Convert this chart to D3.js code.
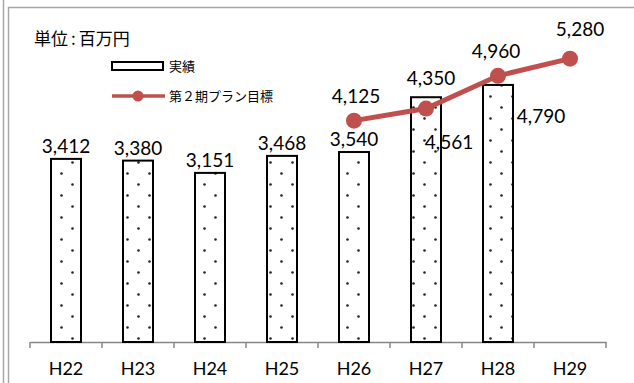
<!DOCTYPE html>
<html>
<head>
<meta charset="utf-8">
<script src="https://cdn.jsdelivr.net/npm/d3@7"></script>
<style>
  body { margin: 0; background: #fff; }
  svg { display: block; }
</style>
</head>
<body>
<div id="chart"></div>
<script>
const categories = ['H22', 'H23', 'H24', 'H25', 'H26', 'H27', 'H28', 'H29'];
const actual = [3412, 3380, 3151, 3468, 3540, 4561, 4790, null];
const planCats = ['H26', 'H27', 'H28', 'H29'];
const plan = [4125, 4350, 4960, 5280];
const legendLabels = ['実績', '第２期プラン目標'];
const unitParts = ['単位', ':', '百万円'];

const W = 634, H = 383;
const red = '#c0504d';
const numFont = 'Lato, "Open Sans", sans-serif';
const jpFont = '"Noto Sans CJK JP", "Noto Sans", sans-serif';

const svg = d3.select('#chart').append('svg')
  .attr('width', W).attr('height', H);

// outer frame remnants
svg.append('line').attr('x1', 3.5).attr('x2', 3.5).attr('y1', 0).attr('y2', H)
  .attr('stroke', '#a6a6a6').attr('stroke-width', 1.5);
svg.append('path').attr('d', `M8.5,${H} V7.5 H${W}`)
  .attr('fill', 'none').attr('stroke', '#a6a6a6').attr('stroke-width', 1.5);

const defs = svg.append('defs');
const pat = defs.append('pattern').attr('id', 'dots')
  .attr('patternUnits', 'userSpaceOnUse').attr('width', 22).attr('height', 22)
  .attr('x', 1).attr('y', 3);
pat.append('rect').attr('width', 22).attr('height', 22).attr('fill', '#fff');
pat.append('circle').attr('cx', 5.5).attr('cy', 5.5).attr('r', 1.3).attr('fill', '#222');
pat.append('circle').attr('cx', 16.5).attr('cy', 16.5).attr('r', 1.3).attr('fill', '#222');

const x = d3.scaleBand().domain(categories).range([30, 606]).paddingInner(0).paddingOuter(0);
const y = d3.scaleLinear().domain([0, 6000]).range([342, 20]);
const bw = 30;

// axis
const ax = svg.append('g').attr('transform', 'translate(0,342)')
  .call(d3.axisBottom(x).tickSize(0).tickPadding(0));
ax.select('.domain').attr('stroke', '#868686').attr('stroke-width', 1.5);
ax.selectAll('.tick text').remove();
ax.selectAll('.tick line').remove();
ax.selectAll('.sep').data(d3.range(categories.length + 1)).enter().append('line')
  .attr('x1', i => 30 + i * x.bandwidth()).attr('x2', i => 30 + i * x.bandwidth())
  .attr('y1', 0).attr('y2', 6).attr('stroke', '#868686').attr('stroke-width', 1.5);
svg.selectAll('.cat').data(categories).enter().append('text')
  .attr('x', d => x(d) + x.bandwidth() / 2).attr('y', 375)
  .attr('text-anchor', 'middle')
  .style('font-family', numFont).style('font-size', '18px').style('fill', '#000')
  .text(d => d);

// bars
const barData = categories.map((c, i) => ({ c, v: actual[i] })).filter(d => d.v != null);
svg.selectAll('.bar').data(barData).enter().append('rect')
  .attr('x', d => x(d.c) + (x.bandwidth() - bw) / 2)
  .attr('y', d => y(d.v))
  .attr('width', bw).attr('height', d => y(0) - y(d.v))
  .attr('fill', 'url(#dots)').attr('stroke', '#000').attr('stroke-width', 2);

const barNudge = { H27: [23, 52], H28: [43, 38] };
svg.selectAll('.blab').data(barData).enter().append('text')
  .attr('x', d => x(d.c) + x.bandwidth() / 2 + (barNudge[d.c] ? barNudge[d.c][0] : 0))
  .attr('y', d => y(d.v) + (barNudge[d.c] ? barNudge[d.c][1] : -6))
  .attr('text-anchor', 'middle')
  .style('font-family', numFont).style('font-size', '19px').style('fill', '#000')
  .text(d => d3.format(',')(d.v));

// plan line
const planData = planCats.map((c, i) => ({ c, v: plan[i] }));
const cx = d => x(d.c) + x.bandwidth() / 2;
svg.append('path').datum(planData)
  .attr('d', d3.line().x(cx).y(d => y(d.v)))
  .attr('fill', 'none').attr('stroke', red).attr('stroke-width', 5);
svg.selectAll('.pt').data(planData).enter().append('circle')
  .attr('cx', cx).attr('cy', d => y(d.v)).attr('r', 8).attr('fill', red);

const lineNudge = { H26: [2, -18], H27: [5, -24], H28: [-2, -18], H29: [10, -23] };
svg.selectAll('.plab').data(planData).enter().append('text')
  .attr('x', d => cx(d) + lineNudge[d.c][0])
  .attr('y', d => y(d.v) + lineNudge[d.c][1])
  .attr('text-anchor', 'middle')
  .style('font-family', numFont).style('font-size', '19px').style('fill', '#000')
  .text(d => d3.format(',')(d.v));

// unit label
const ut = svg.append('text').attr('x', 34).attr('y', 45)
  .style('font-family', jpFont).style('font-size', '17px').style('fill', '#000');
ut.selectAll('tspan').data(unitParts).enter().append('tspan')
  .attr('dx', (d, i) => i === 0 ? 0 : 3)
  .text(d => d);

// legend
const lg = svg.append('g');
lg.append('rect').attr('x', 112).attr('y', 62).attr('width', 51).attr('height', 8)
  .attr('fill', '#fff').attr('stroke', '#000').attr('stroke-width', 2);
lg.append('line').attr('x1', 112).attr('x2', 165).attr('y1', 96).attr('y2', 96)
  .attr('stroke', red).attr('stroke-width', 3.5);
lg.append('circle').attr('cx', 138).attr('cy', 96).attr('r', 5.5).attr('fill', red);
lg.selectAll('.lt').data(legendLabels).enter().append('text')
  .attr('x', 169).attr('y', (d, i) => 71 + i * 30)
  .style('font-family', jpFont).style('font-size', '13px').style('fill', '#000')
  .text(d => d);
</script>
</body>
</html>
